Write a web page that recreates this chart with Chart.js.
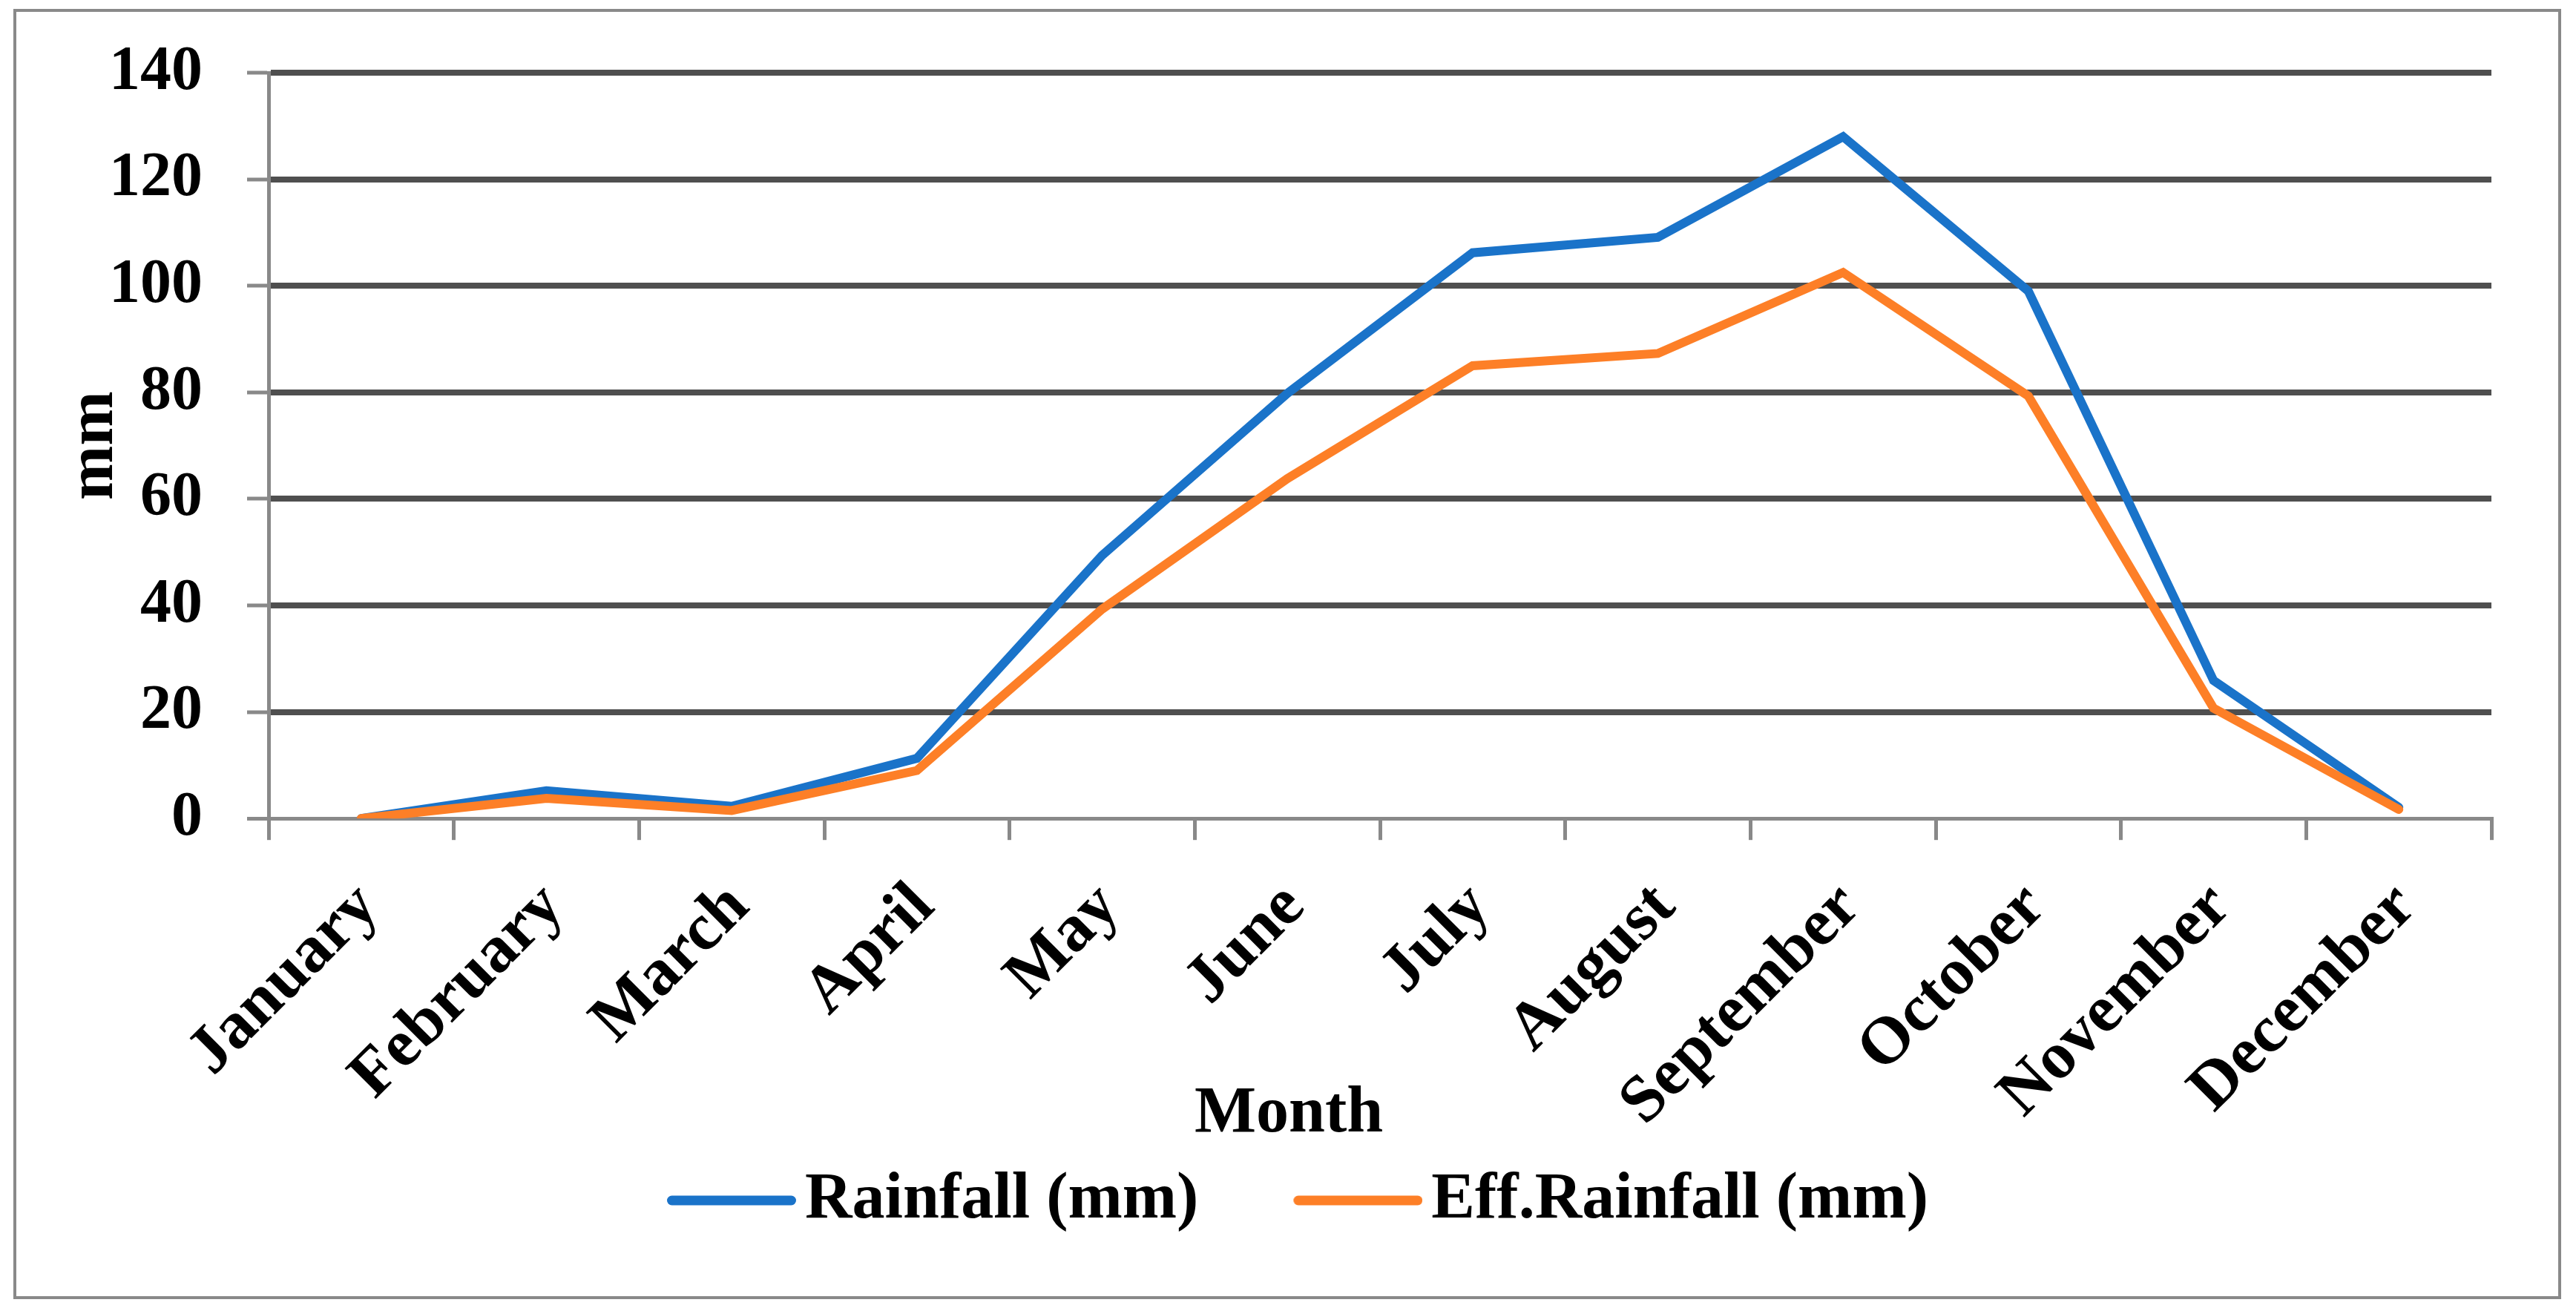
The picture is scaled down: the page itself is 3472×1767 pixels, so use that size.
<!DOCTYPE html>
<html>
<head>
<meta charset="utf-8">
<script src="https://cdn.jsdelivr.net/npm/chart.js@4.4.1/dist/chart.umd.min.js"></script>
<style>
  html, body { margin: 0; padding: 0; background: #fff; }
  #wrap { width: 3472px; height: 1767px; }
</style>
</head>
<body>
<div id="wrap"><canvas id="rainChart"></canvas></div>
<script>
// monthly values
const months = ['January', 'February', 'March', 'April', 'May', 'June',
                'July', 'August', 'September', 'October', 'November', 'December'];
const rainfall = [0, 5.2, 2.3, 11.3, 49.4, 79.8, 106.2, 109.1, 128, 99, 25.9, 2.1];
const effRainfall = [0, 3.8, 1.5, 9, 39.3, 63.8, 85, 87.3, 102.5, 79.3, 20.7, 1.7];
const yMin = 0, yMax = 140, yStep = 20;

const serif = 'Liberation Serif';
const axisGray = '#898989';

// legend marker: a short thick line, drawn a bit off-centre in its box
function legendLine(color) {
  const c = document.createElement('canvas');
  c.width = 230;
  c.height = 14;
  const g = c.getContext('2d');
  g.strokeStyle = color;
  g.lineWidth = 13;
  g.lineCap = 'round';
  g.beginPath();
  g.moveTo(62.5, 7);
  g.lineTo(223.5, 7);
  g.stroke();
  return c;
}

// white background + grey frame round the whole figure
const framePlugin = {
  id: 'frame',
  beforeDraw(chart) {
    const c = chart.ctx;
    c.save();
    c.fillStyle = '#fff';
    c.fillRect(0, 0, chart.width, chart.height);
    c.restore();
  },
  afterDraw(chart) {
    const c = chart.ctx;
    c.save();
    c.strokeStyle = axisGray;
    c.lineWidth = 4;
    c.strokeRect(20, 14, 3430, 1735);
    c.restore();
  }
};

const myChart = new Chart('rainChart', {
  type: 'line',
  data: {
    labels: months,
    datasets: [{
      label: 'Rainfall (mm)',
      data: rainfall,
      borderColor: '#1a73c9',
      backgroundColor: '#1a73c9',
      borderWidth: 12,
      borderCapStyle: 'round',
      pointRadius: 0,
      tension: 0,
      order: 1
    }, {
      label: 'Eff.Rainfall (mm)',
      data: effRainfall,
      borderColor: '#fd7f27',
      backgroundColor: '#fd7f27',
      borderWidth: 12,
      borderCapStyle: 'round',
      pointRadius: 0,
      tension: 0,
      order: 0
    }]
  },
  options: {
    responsive: true,
    maintainAspectRatio: false,
    animation: false,
    devicePixelRatio: 1,
    layout: { padding: { top: 98, left: 2, right: 0, bottom: 95 } },
    scales: {
      x: {
        offset: true,
        grid: { offset: true, drawOnChartArea: false, color: axisGray, lineWidth: 5, tickLength: 29 },
        border: { color: axisGray, width: 5 },
        ticks: {
          font: { family: serif, size: 90, weight: 'bold' },
          color: '#000',
          minRotation: 45,
          maxRotation: 45,
          autoSkip: false,
          padding: 38,
          labelOffset: 10
        },
        afterFit: s => {
          s.height = 346;
          // labels hang below the axis box, don't clip them
          s._computeLabelArea = () => undefined;
        }
      },
      y: {
        min: yMin,
        max: yMax,
        ticks: {
          stepSize: yStep,
          // small lineHeight so the top label doesn't push the plot down
          font: { family: serif, size: 84, weight: 'bold', lineHeight: 0.9 },
          color: '#000',
          padding: 60
        },
        grid: {
          color: c => (c.tick && c.tick.value === 0) ? axisGray : '#4f4f4f',
          lineWidth: c => (c.tick && c.tick.value === 0) ? 5 : 8,
          tickLength: 29,
          tickColor: axisGray,
          tickWidth: 5
        },
        border: { color: axisGray, width: 5 },
        title: {
          display: true,
          text: 'mm',
          color: '#000',
          font: { family: serif, size: 88, weight: 'bold' },
          padding: { top: 73, bottom: 0 }
        },
        afterFit: s => { s.width = 360; }
      },
      y2: {
        position: 'right',
        display: true,
        grid: { display: false },
        border: { display: false },
        ticks: { display: false },
        afterFit: s => { s.width = 114; }
      }
    },
    plugins: {
      title: {
        display: true,
        text: 'Month',
        position: 'bottom',
        weight: 500,
        color: '#000',
        font: { family: serif, size: 88, weight: 'bold' },
        padding: { top: 0, bottom: -84.8 }
      },
      legend: {
        position: 'bottom',
        labels: {
          usePointStyle: true,
          pointStyleWidth: 166,
          padding: 104,
          color: '#000',
          font: { family: serif, size: 88, weight: 'bold' },
          sort: (a, b) => a.datasetIndex - b.datasetIndex,
          generateLabels: chart => {
            const items = Chart.defaults.plugins.legend.labels.generateLabels(chart);
            items.forEach(it => { it.pointStyle = legendLine(it.strokeStyle); });
            return items;
          }
        }
      },
      tooltip: { enabled: false }
    }
  },
  plugins: [framePlugin]
});
</script>
</body>
</html>
